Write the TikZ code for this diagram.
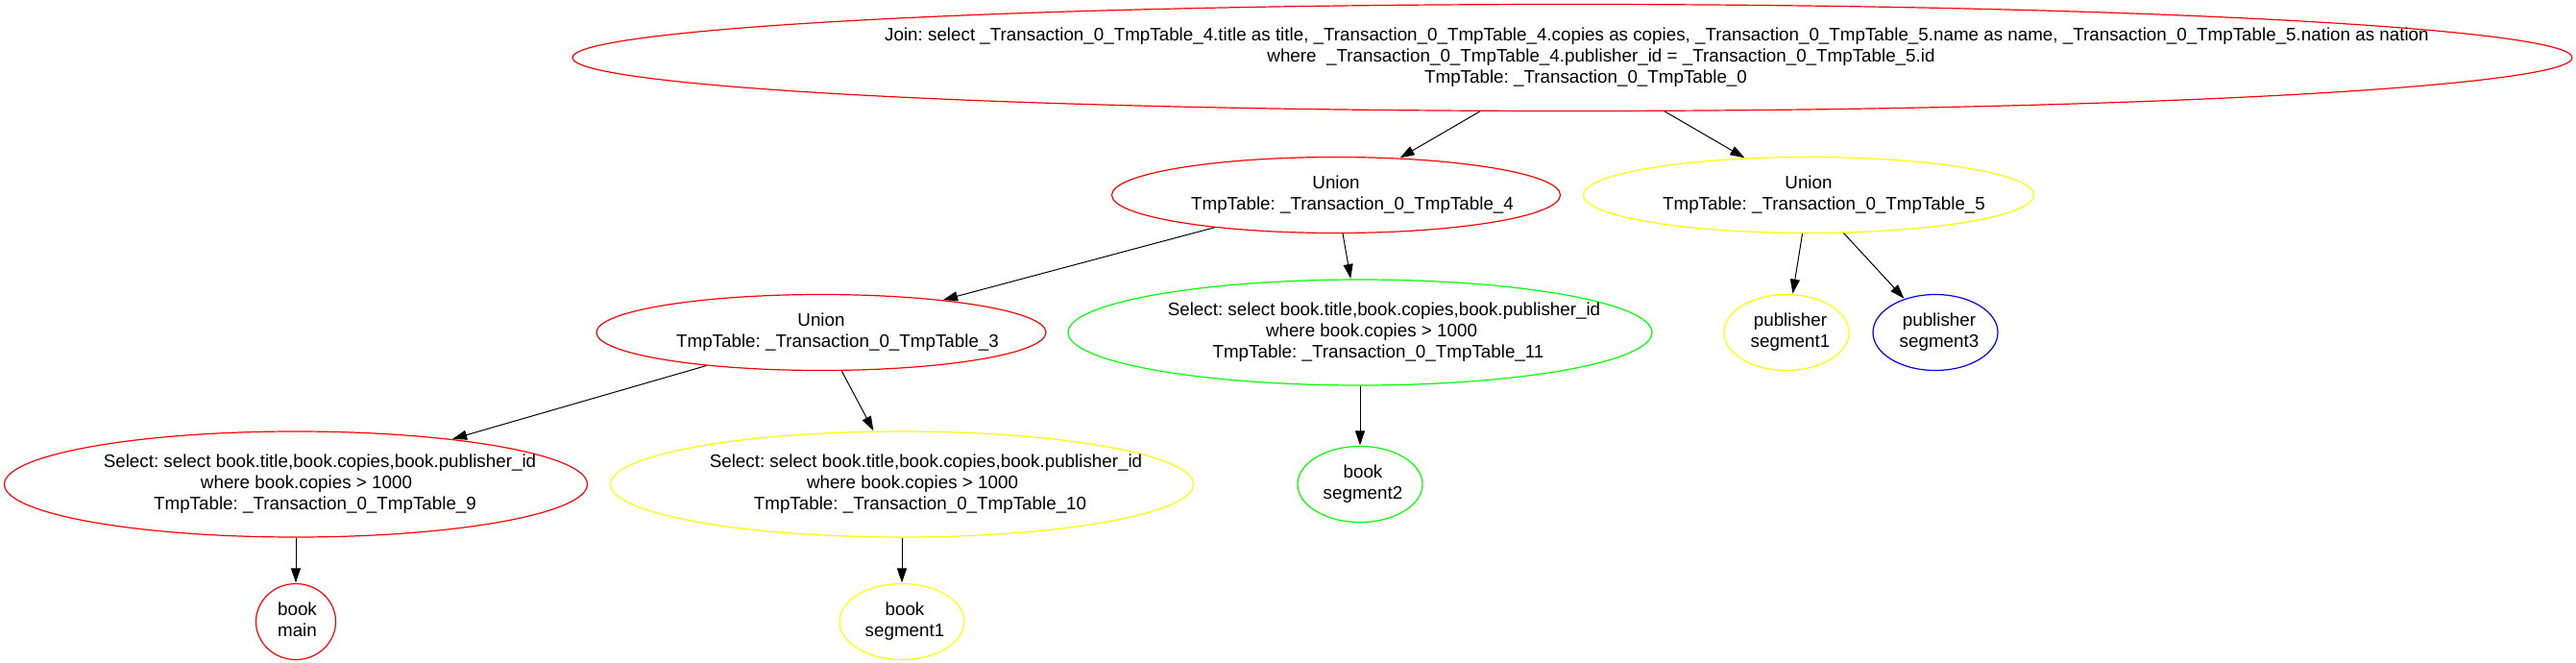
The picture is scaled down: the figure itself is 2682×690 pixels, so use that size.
\documentclass[tikz,border=0pt]{standalone}
\usepackage{fontspec}
\setmainfont{Liberation Sans}
\usetikzlibrary{shapes.geometric,arrows.meta}
% #1 = twice the rightward shift of the line's centre
\newcommand{\tl}[2]{\makebox[0pt]{\hspace*{#1pt}#2}}
\newcommand{\lbl}[1]{\begin{tabular}{@{}c@{}}#1\end{tabular}}
\tikzset{
  x=1pt,y=-1pt,
  nd/.style={ellipse,draw,line width=1.2pt,inner sep=0pt,
    font=\fontsize{18.8}{22}\selectfont\frenchspacing,minimum width=#1},
  nd/.default=130pt,
  ed/.style={line width=1pt,-{Triangle[length=15pt,width=10pt]},shorten >=0.5pt},
}
\begin{document}
\begin{tikzpicture}
\useasboundingbox (0,0) rectangle (2682,690);
\definecolor{cr}{RGB}{255,0,0}
\definecolor{cy}{RGB}{255,255,0}
\definecolor{cg}{RGB}{0,255,0}
\definecolor{cb}{RGB}{0,0,255}
\node[nd=2082pt,minimum height=111pt,draw=cr] (join) at (1637,60) {\lbl{\tl{176}{Join: select \_Transaction\_0\_TmpTable\_4.title as title, \_Transaction\_0\_TmpTable\_4.copies as copies, \_Transaction\_0\_TmpTable\_5.name as name, \_Transaction\_0\_TmpTable\_5.nation as nation}\\\tl{60}{where\ \ \_Transaction\_0\_TmpTable\_4.publisher\_id = \_Transaction\_0\_TmpTable\_5.id}\\\tl{28}{TmpTable: \_Transaction\_0\_TmpTable\_0}}};
\node[nd=467pt,minimum height=79pt,draw=cr] (u4) at (1391,203) {\lbl{\tl{0}{Union}\\\tl{34}{TmpTable: \_Transaction\_0\_TmpTable\_4}}};
\node[nd=469pt,minimum height=79pt,draw=cy] (u5) at (1883,203) {\lbl{\tl{0}{Union}\\\tl{32}{TmpTable: \_Transaction\_0\_TmpTable\_5}}};
\node[nd=468pt,minimum height=79pt,draw=cr] (u3) at (855,346) {\lbl{\tl{0}{Union}\\\tl{34}{TmpTable: \_Transaction\_0\_TmpTable\_3}}};
\node[nd=608pt,minimum height=110pt,draw=cg] (s11) at (1416,346) {\lbl{\tl{50}{Select: select book.title,book.copies,book.publisher\_id}\\\tl{24}{where book.copies > 1000}\\\tl{38}{TmpTable: \_Transaction\_0\_TmpTable\_11}}};
\node[nd=130pt,minimum height=79pt,draw=cy] (p1) at (1860,346) {\lbl{\tl{8}{publisher}\\\tl{8}{segment1}}};
\node[nd=130pt,minimum height=79pt,draw=cb] (p3) at (2015,346) {\lbl{\tl{8}{publisher}\\\tl{8}{segment3}}};
\node[nd=607pt,minimum height=110pt,draw=cr] (s9) at (308,504) {\lbl{\tl{50}{Select: select book.title,book.copies,book.publisher\_id}\\\tl{22}{where book.copies > 1000}\\\tl{40}{TmpTable: \_Transaction\_0\_TmpTable\_9}}};
\node[nd=607pt,minimum height=110pt,draw=cy] (s10) at (939,504) {\lbl{\tl{50}{Select: select book.title,book.copies,book.publisher\_id}\\\tl{22}{where book.copies > 1000}\\\tl{38}{TmpTable: \_Transaction\_0\_TmpTable\_10}}};
\node[nd=130pt,minimum height=79pt,draw=cg] (b2) at (1416,504) {\lbl{\tl{6}{book}\\\tl{6}{segment2}}};
\node[nd=83pt,minimum height=79pt,draw=cr] (bm) at (308,647) {\lbl{\tl{3}{book}\\\tl{3}{main}}};
\node[nd=130pt,minimum height=79pt,draw=cy] (b1) at (939,647) {\lbl{\tl{6}{book}\\\tl{6}{segment1}}};
\draw[ed] (join) -- (u4);
\draw[ed] (join) -- (u5);
\draw[ed] (u4) -- (u3);
\draw[ed] (u4) -- (s11);
\draw[ed] (u5) -- (p1);
\draw[ed] (u5) -- (p3);
\draw[ed] (u3) -- (s9);
\draw[ed] (u3) -- (s10);
\draw[ed] (s11) -- (b2);
\draw[ed] (s9) -- (bm);
\draw[ed] (s10) -- (b1);
\end{tikzpicture}
\end{document}
